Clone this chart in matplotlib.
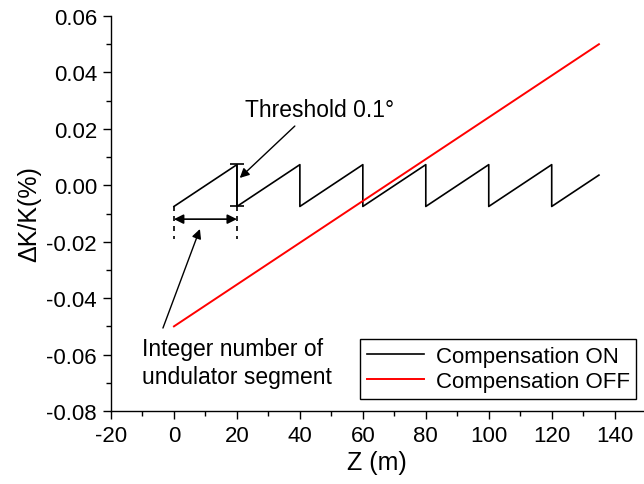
import matplotlib
matplotlib.use('Agg')
import matplotlib.pyplot as plt
import numpy as np
from matplotlib.ticker import MultipleLocator, FormatStrFormatter

plt.rcParams['font.family'] = ['Liberation Sans', 'DejaVu Sans']
plt.rcParams['axes.unicode_minus'] = False

# undulator line: 0 .. 135 m, detuning ramps linearly with z
z_start = 0.0
z_end = 135.0
dk_start = -0.05
dk_end = 0.05
segment_length = 20.0   # compensation resets every segment
threshold = 0.0075      # +/- band for the compensated curve

slope = (dk_end - dk_start) / (z_end - z_start)

# uncompensated: straight line
z_off = [z_start, z_end]
dk_off = [dk_start, dk_end]

# compensated: sawtooth reset at every segment boundary
z_on = []
dk_on = []
for z0 in np.arange(z_start, z_end, segment_length):
    z1 = min(z0 + segment_length, z_end)
    z_on += [z0, z1]
    dk_on += [-threshold, -threshold + slope * (z1 - z0)]

fig = plt.figure(figsize=(6.44, 4.85), dpi=100)
ax = fig.add_axes([111 / 644, 1 - 412 / 485, (643 - 111) / 644, (412 - 17) / 485])

ax.plot(z_on, dk_on, color='black', lw=1.2, label='Compensation ON')
ax.plot(z_off, dk_off, color='red', lw=1.4, label='Compensation OFF')

# threshold bar at the first reset
ax.errorbar([segment_length], [0.0], yerr=[threshold], color='black', lw=1.2,
            capsize=5, capthick=1.2)
ax.annotate('', xy=(20.9, 0.0026), xytext=(38.4, 0.021),
            arrowprops=dict(arrowstyle='-|>', color='black', lw=1.0,
                            mutation_scale=14, shrinkA=0, shrinkB=0))
ax.text(22.5, 0.027, 'Threshold 0.1\u00b0', fontsize=16.5, va='center', ha='left')

# segment length marker
for zx in [z_start, z_start + segment_length]:
    ax.plot([zx, zx], [-0.0075, -0.019], color='black', lw=1.2,
            linestyle=(0, (3, 3)))
ax.annotate('', xy=(z_start, -0.012), xytext=(z_start + segment_length, -0.012),
            arrowprops=dict(arrowstyle='<|-|>', color='black', lw=1.2,
                            mutation_scale=14, shrinkA=0, shrinkB=0))
ax.annotate('', xy=(8.25, -0.0155), xytext=(-3.5, -0.0506),
            arrowprops=dict(arrowstyle='-|>', color='black', lw=1.0,
                            mutation_scale=14, shrinkA=0, shrinkB=0))
ax.text(-10.2, -0.0628, 'Integer number of\nundulator segment', fontsize=16.5,
        va='center', ha='left', linespacing=1.25)

ax.set_xlim(-20, 149)
ax.set_ylim(-0.08, 0.06)
ax.xaxis.set_major_locator(MultipleLocator(20))
ax.xaxis.set_minor_locator(MultipleLocator(10))
ax.yaxis.set_major_locator(MultipleLocator(0.02))
ax.yaxis.set_minor_locator(MultipleLocator(0.01))
ax.yaxis.set_major_formatter(FormatStrFormatter('%.2f'))

for s in ['top', 'right']:
    ax.spines[s].set_visible(False)
for s in ['left', 'bottom']:
    ax.spines[s].set_linewidth(1.0)

ax.tick_params(which='major', direction='out', length=6, width=1.0,
               labelsize=16, pad=4)
ax.tick_params(which='minor', direction='out', length=3.5, width=1.0)

ax.set_xlabel('Z (m)', fontsize=18, labelpad=3)
ax.set_ylabel('\u0394K/K(%)', fontsize=18, labelpad=4)

ax.legend(handles=ax.get_lines()[:2], loc='upper left',
          bbox_to_anchor=(360 / 644, 1 - 340 / 485), bbox_transform=fig.transFigure,
          fontsize=16, frameon=True, fancybox=False, edgecolor='black',
          framealpha=1, borderaxespad=0, borderpad=0.3, handlelength=2.6,
          handletextpad=0.5, labelspacing=0.2)
ax.get_legend().get_frame().set_linewidth(1.0)

fig.savefig('out.png', dpi=100)
